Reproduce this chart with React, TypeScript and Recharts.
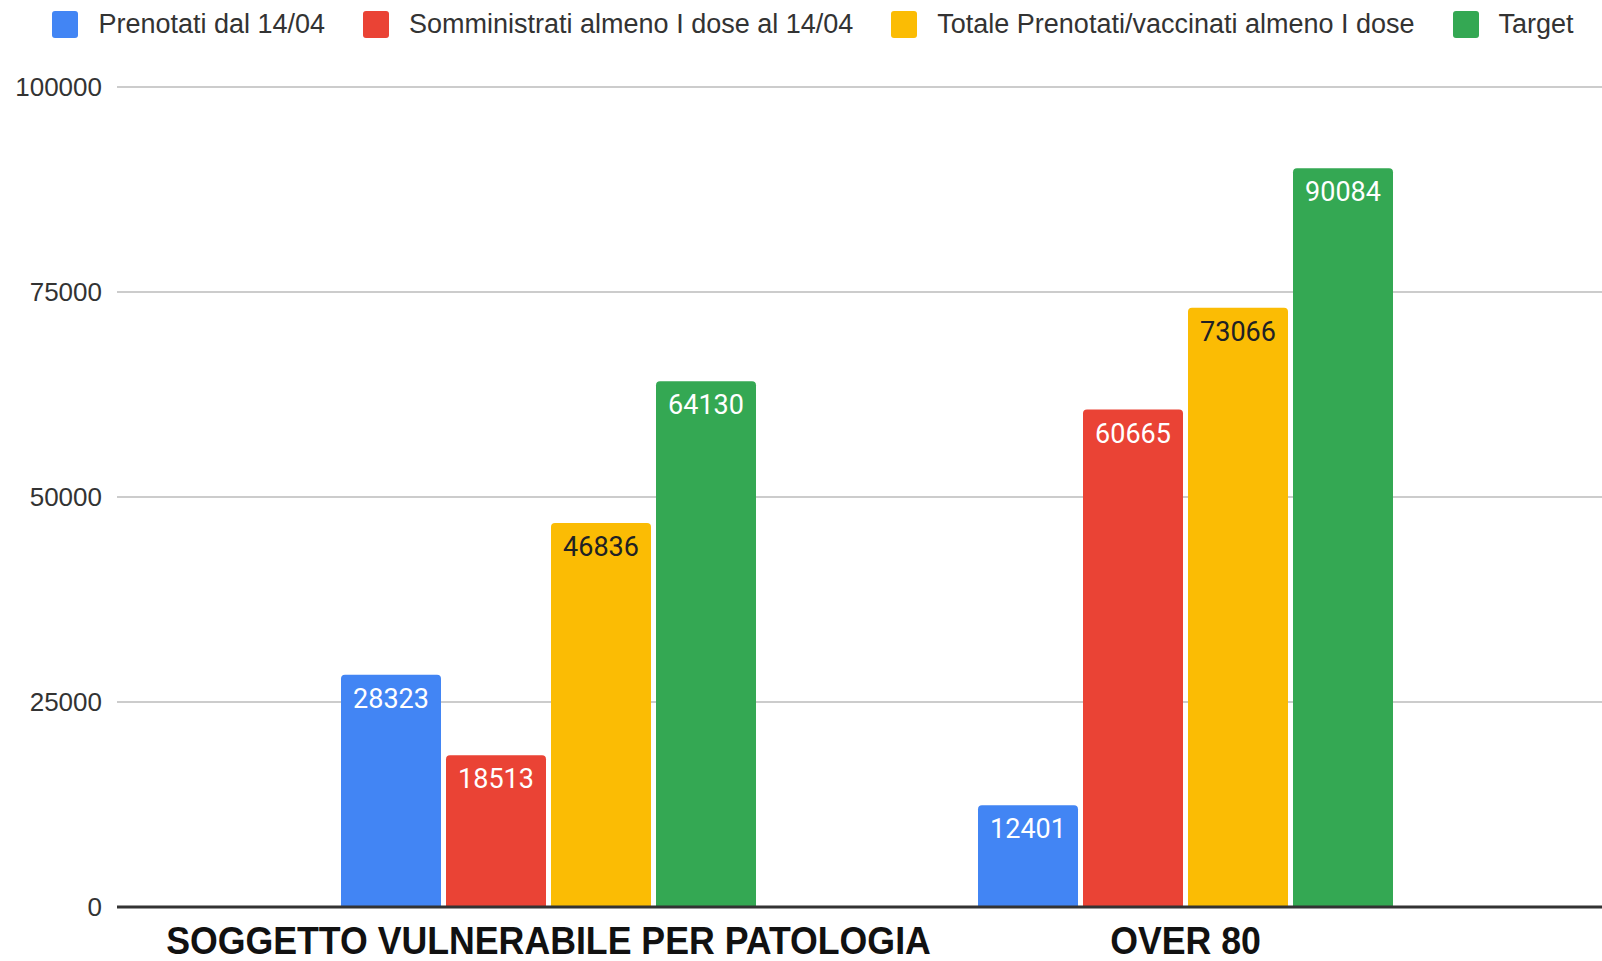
import React from 'react';
import { BarChart, Bar, XAxis, YAxis, CartesianGrid, Legend, LabelList } from 'recharts';

const categories = ['SOGGETTO VULNERABILE PER PATOLOGIA', 'OVER 80'];
const prenotati = [28323, 12401];
const somministrati = [18513, 60665];
const totale = [46836, 73066];
const target = [64130, 90084];
const yTicks = [0, 25000, 50000, 75000, 100000];

const seriesNames = [
  'Prenotati dal 14/04',
  'Somministrati almeno I dose al 14/04',
  'Totale Prenotati/vaccinati almeno I dose',
  'Target',
];
const seriesColors = ['#4285F4', '#EA4335', '#FBBC04', '#34A853'];
const labelColors = ['#ffffff', '#ffffff', '#202124', '#ffffff'];

const data = categories.map((c, i) => ({
  name: c,
  s0: prenotati[i],
  s1: somministrati[i],
  s2: totale[i],
  s3: target[i],
}));

const SANS = "'Liberation Sans', Arial, sans-serif";

const YTick = (props: any) => {
  const { x, y, payload } = props;
  return (
    <text x={x} y={y} dy="0.36em" textAnchor="end" fontFamily={SANS} fontSize={26} fill="#333">
      {payload.value}
    </text>
  );
};

const XTick = (props: any) => {
  const { x, y, payload } = props;
  return (
    <g transform={`translate(${x},${y + 45}) scale(1.02,1.1)`}>
      <text x={0} y={0} textAnchor="middle" fontFamily={SANS} fontWeight="bold" fontSize={35} fill="#111">
        {payload.value}
      </text>
    </g>
  );
};

const makeLabel = (fill: string) => (props: any) => {
  const { x, y, width, value } = props;
  return (
    <text x={x + width / 2} y={y + 33} textAnchor="middle" fill={fill} fontFamily="Roboto" fontSize={27}>
      {value}
    </text>
  );
};

const LegendContent = () => (
  <div
    style={{
      display: 'flex',
      justifyContent: 'center',
      alignItems: 'center',
      width: 1602,
      height: 48,
      paddingLeft: 24,
      boxSizing: 'border-box',
    }}
  >
    {seriesNames.map((n, i) => (
      <div key={n} style={{ display: 'flex', alignItems: 'center', marginRight: i < seriesNames.length - 1 ? 38 : 0 }}>
        <div style={{ width: 26, height: 27, borderRadius: 3, background: seriesColors[i], marginRight: 20 }} />
        <span style={{ fontFamily: SANS, fontSize: 27, color: '#333', whiteSpace: 'nowrap', lineHeight: '30px' }}>{n}</span>
      </div>
    ))}
  </div>
);

export default function App() {
  return (
    <div style={{ position: 'absolute', left: 0, top: 0, width: 1602, height: 961, background: '#fff' }}>
      <BarChart
        width={1602}
        height={961}
        data={data}
        margin={{ top: 39, right: 0, bottom: 0, left: 0 }}
        barCategoryGap={111}
        barGap={5}
      >
        <CartesianGrid horizontal vertical={false} stroke="#cccccc" strokeWidth={2} />
        <XAxis
          dataKey="name"
          tick={<XTick />}
          tickLine={false}
          tickSize={0}
          axisLine={{ stroke: '#333', strokeWidth: 3 }}
          height={54}
          interval={0}
          padding={{ left: 113, right: 98 }}
        />
        <YAxis
          domain={[0, 100000]}
          ticks={yTicks}
          tick={<YTick />}
          tickLine={false}
          axisLine={false}
          tickSize={0}
          tickMargin={15}
          width={117}
          interval={0}
        />
        <Legend
          verticalAlign="top"
          align="left"
          content={<LegendContent />}
          wrapperStyle={{ top: 0, left: 0, width: 1602, height: 48 }}
        />
        {seriesNames.map((n, i) => (
          <Bar
            key={n}
            dataKey={`s${i}`}
            name={n}
            fill={seriesColors[i]}
            radius={[4, 4, 0, 0]}
            isAnimationActive={false}
          >
            <LabelList dataKey={`s${i}`} content={makeLabel(labelColors[i])} />
          </Bar>
        ))}
      </BarChart>
    </div>
  );
}
